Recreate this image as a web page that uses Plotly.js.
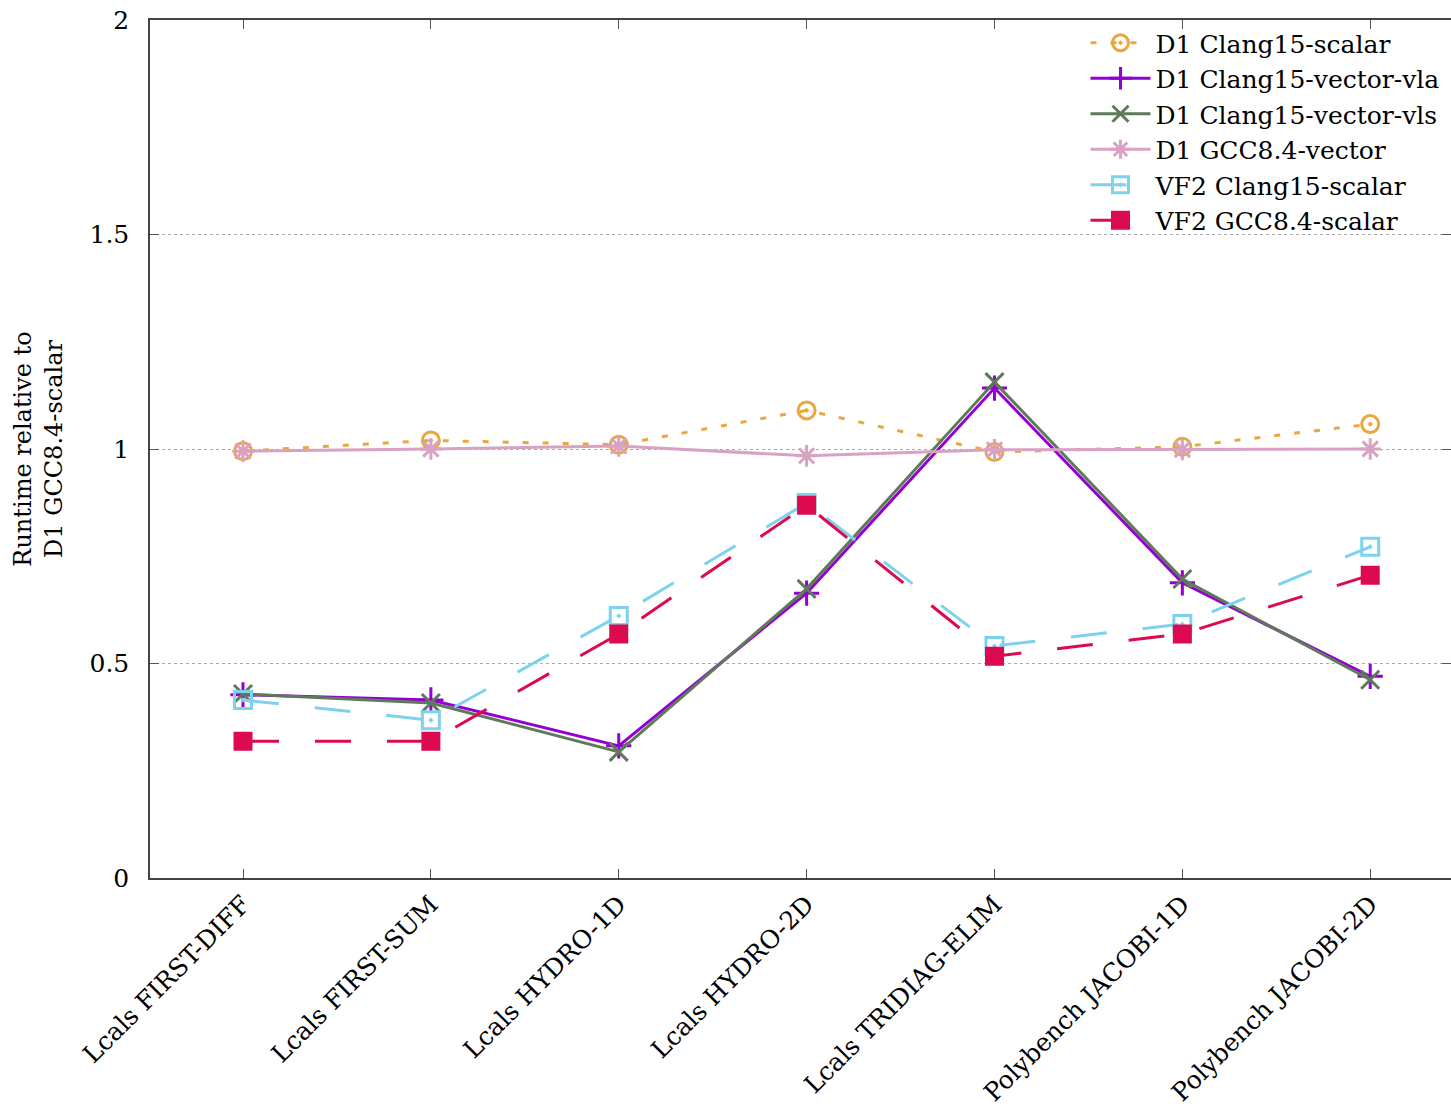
<!DOCTYPE html>
<html>
<head>
<meta charset="utf-8">
<script src="https://cdn.plot.ly/plotly-3.0.1.min.js"></script>
<style>html,body{margin:0;padding:0;background:#fff;}#chart{width:1451px;height:1119px;}</style>
</head>
<body>
<div id="chart"></div>
<script>
const categories = ["Lcals FIRST-DIFF","Lcals FIRST-SUM","Lcals HYDRO-1D","Lcals HYDRO-2D","Lcals TRIDIAG-ELIM","Polybench JACOBI-1D","Polybench JACOBI-2D"];
const d1Clang15Scalar   = [0.995, 1.020, 1.010, 1.090, 0.993, 1.005, 1.058];
const d1Clang15VecVla   = [0.427, 0.415, 0.308, 0.664, 1.142, 0.688, 0.470];
const d1Clang15VecVls   = [0.429, 0.408, 0.294, 0.674, 1.156, 0.697, 0.462];
const d1Gcc84Vector     = [0.995, 1.000, 1.007, 0.984, 0.998, 0.999, 1.000];
const vf2Clang15Scalar  = [0.415, 0.368, 0.611, 0.874, 0.541, 0.592, 0.772];
const vf2Gcc84Scalar    = [0.319, 0.319, 0.569, 0.869, 0.517, 0.569, 0.706];
const seriesNames = ["D1 Clang15-scalar","D1 Clang15-vector-vla","D1 Clang15-vector-vls","D1 GCC8.4-vector","VF2 Clang15-scalar","VF2 GCC8.4-scalar"];
const yTicks = [0, 0.5, 1, 1.5, 2];

const idx = categories.map((_, i) => i);
const styles = [
  {color:'#EBA63F', dash:'6px,14px', symbol:'circle-open-dot', size:17},
  {color:'#9400D3', dash:'solid', symbol:'cross-thin-open', size:18},
  {color:'#5E7A5A', dash:'solid', symbol:'x-thin-open', size:18},
  {color:'#D8A2C2', dash:'solid', symbol:'asterisk-open', size:18},
  {color:'#7DD3EE', dash:'36px,36px', symbol:'square-open-dot', size:17},
  {color:'#DC0A4F', dash:'36px,36px', symbol:'square', size:16}
];
const data = [d1Clang15Scalar, d1Clang15VecVla, d1Clang15VecVls, d1Gcc84Vector, vf2Clang15Scalar, vf2Gcc84Scalar];
const traces = data.map((ys, k) => ({
  type:'scatter', mode:'lines+markers', name:seriesNames[k],
  x: idx, y: ys,
  line:{color:styles[k].color, width:3, dash:styles[k].dash},
  marker:{symbol:styles[k].symbol, size:styles[k].size, color:styles[k].color,
          line:{color:styles[k].color, width:3}}
}));

const fam = '"DejaVu Serif", "Liberation Serif", serif';
const layout = {
  width:1451, height:1119,
  margin:{l:150, r:0, t:20, b:241},
  paper_bgcolor:'#fff', plot_bgcolor:'#fff',
  font:{family:fam, color:'#000', size:25},
  showlegend:true,
  legend:{x:0.995, xanchor:'right', y:1.0, yanchor:'top', bgcolor:'rgba(0,0,0,0)',
          font:{family:fam, size:25, color:'#000'}, tracegroupgap:0, itemwidth:60},
  xaxis:{
    range:[-0.495, 6.43], tickmode:'array', tickvals:idx, ticktext:categories,
    tickangle:-45, ticks:'inside', ticklen:9, tickcolor:'#555', tickwidth:1,
    showline:true, linecolor:'#444', linewidth:1.5, mirror:'allticks',
    showgrid:false, zeroline:false, tickfont:{family:fam, size:25}
  },
  yaxis:{
    range:[0, 2], tickmode:'array', tickvals:yTicks, ticktext:yTicks.map(String),
    ticks:'inside', ticklen:9, tickcolor:'#555', tickwidth:1, ticklabelstandoff:14,
    showline:true, linecolor:'#444', linewidth:1.5, mirror:'allticks',
    showgrid:true, gridcolor:'#aaa', griddash:'dot', gridwidth:1, zeroline:false,
    tickfont:{family:fam, size:25},
    title:{text:'Runtime relative to<br>D1 GCC8.4-scalar', font:{family:fam, size:24}, standoff:20}
  }
};
Plotly.newPlot('chart', traces, layout, {displayModeBar:false, responsive:false});
</script>
</body>
</html>
